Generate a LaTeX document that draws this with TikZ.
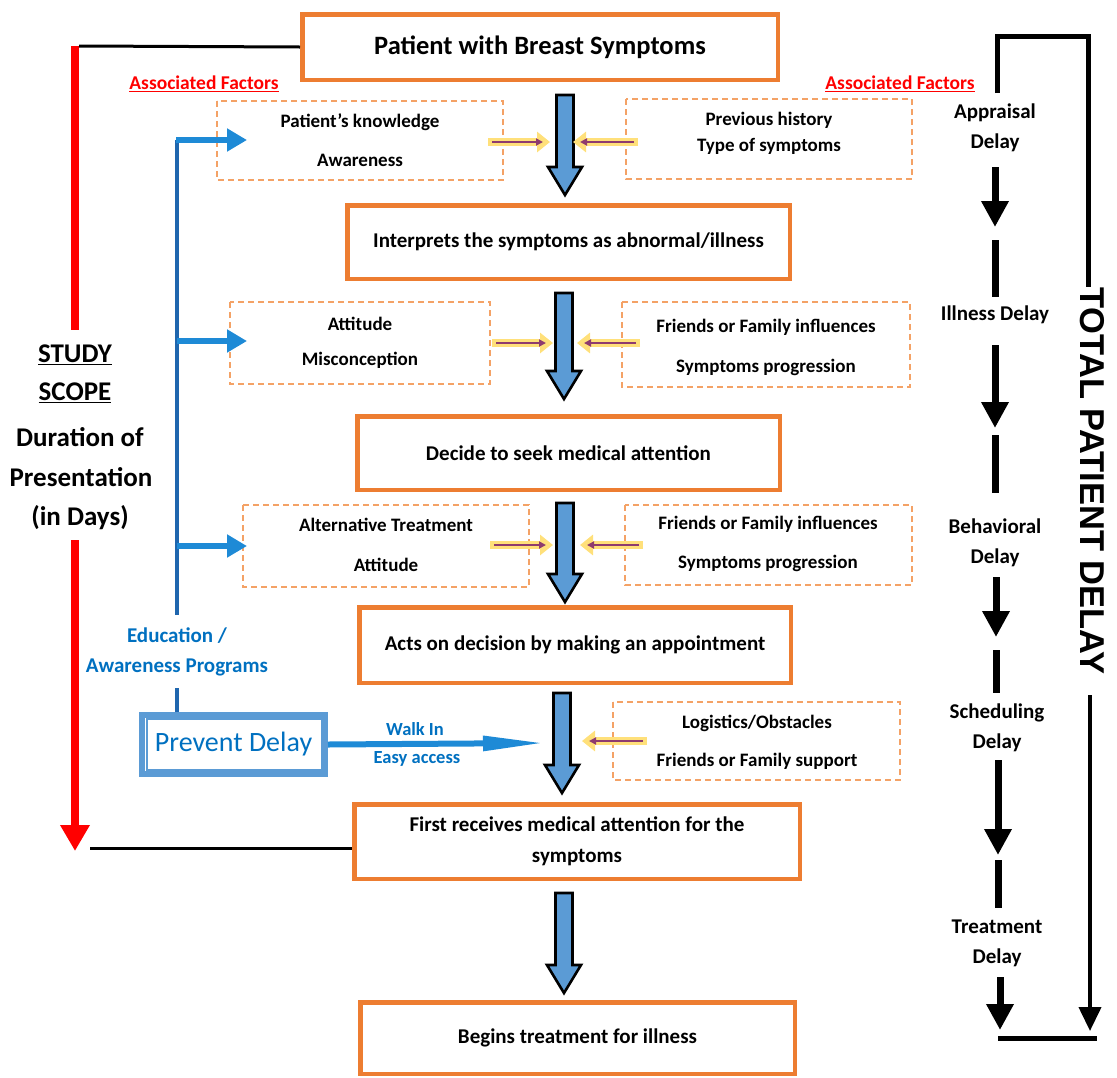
\documentclass[tikz,border=0pt]{standalone}
\usepackage{fontspec}
\setmainfont{Carlito}
\newfontfamily\arialfont{Liberation Sans}
\usetikzlibrary{arrows.meta,calc}
\definecolor{boxorange}{HTML}{ED7D31}
\definecolor{dashorange}{HTML}{F4A266}
\definecolor{arrowblue}{HTML}{5B9BD5}
\definecolor{edublue}{HTML}{0070C0}
\definecolor{lineblue}{HTML}{1F66AE}
\definecolor{brightblue}{HTML}{1E8AD6}
\definecolor{glowyellow}{HTML}{FFE07A}
\definecolor{purp}{HTML}{8E3B6E}
\definecolor{pdblue}{HTML}{5B9BD5}
\definecolor{redline}{HTML}{FF0000}
\newcommand\blockarrow[3]{%
  \draw[bigarrow] ({#1-8.5},#2) -- ({#1+8.5},#2) -- ({#1+8.5},{#3-28}) -- ({#1+17},{#3-28}) -- (#1,#3) -- ({#1-17},{#3-28}) -- ({#1-8.5},{#3-28}) -- cycle;}
\begin{document}
\begin{tikzpicture}[x=1pt,y=-1pt,
  mainbox/.style={draw=boxorange, line width=4.5pt, fill=white, align=center, inner sep=0pt,
    font=\bfseries\fontsize{21}{31}\selectfont},
  factortext/.style={font=\bfseries\fontsize{19}{#1}\selectfont, align=center, inner sep=0pt},
  factorbox/.style={draw=dashorange, line width=1.2pt, dash pattern=on 6pt off 4pt},
  bigarrow/.style={draw=black, fill=arrowblue, line width=2.6pt, line join=miter},
  glow/.style={draw=glowyellow, line width=8pt, -{Triangle[length=13pt,width=20pt]}},
  pur/.style={draw=purp, line width=2.4pt, -{Triangle[length=7pt,width=7pt]}},
  eduline/.style={draw=lineblue, line width=4pt},
  eduarrow/.style={draw=brightblue, line width=6pt, -{Triangle[length=20pt,width=22pt]}},
  edutext/.style={text=edublue, font=\bfseries\fontsize{21}{30}\selectfont, align=center, inner sep=0pt},
  walktext/.style={text=edublue, font=\bfseries\fontsize{18.5}{22}\selectfont, inner sep=0pt},
  assoc/.style={text=redline, font=\bfseries\fontsize{19.5}{22}\selectfont, inner sep=0pt},
  studytext/.style={font=\bfseries\fontsize{27}{30}\selectfont, inner sep=0pt},
  delaytext/.style={font=\bfseries\fontsize{21}{30}\selectfont, align=center, inner sep=0pt},
  dlarrow/.style={draw=black, line width=7pt, -{Triangle[length=26pt,width=26pt]}},
  dlline/.style={draw=black, line width=7pt},
  brk/.style={draw=black, line width=5pt, line join=miter},
]
\useasboundingbox (0,0) rectangle (1117,1077);
\clip (0,0) rectangle (1117,1077);

% ---------- main boxes ----------
\node[mainbox, minimum width=475.5pt, minimum height=65.5pt, font=\bfseries\fontsize{26.5}{30}\selectfont] (b1) at (540,47) {Patient with Breast Symptoms};
\node[mainbox, minimum width=442.5pt, minimum height=73.5pt] (b2) at (568.5,242) {Interprets the symptoms as abnormal/illness};
\node[mainbox, minimum width=422.5pt, minimum height=73.5pt] (b3) at (568.5,453) {Decide to seek medical attention};
\node[mainbox, minimum width=431.5pt, minimum height=75.5pt] (b4) at (575,645) {Acts on decision by making an appointment};
\node[mainbox, minimum width=445.5pt, minimum height=74.5pt] (b5) at (577,841.5) {First receives medical attention for the\\symptoms};
\node[mainbox, minimum width=434.5pt, minimum height=71.5pt] (b6) at (577.5,1038) {Begins treatment for illness};

% ---------- big blue arrows ----------
\blockarrow{565}{95}{195}
\blockarrow{564}{293}{399}
\blockarrow{565}{503}{602}
\blockarrow{562}{693}{793}
\blockarrow{564}{893}{993}

% ---------- factor boxes ----------
\draw[factorbox] (217,101) rectangle (503,180);
\node[factortext=39] (f1l) at (360,140) {Patient’s knowledge\\Awareness};
\draw[factorbox] (626,99) rectangle (912,179);
\node[factortext=26] (f1r) at (769,133) {Previous history\\Type of symptoms};
\draw[factorbox] (230,302) rectangle (490,384);
\node[factortext=35] (f2l) at (360,343) {Attitude\\Misconception};
\draw[factorbox] (622,302) rectangle (910,387);
\node[factortext=40] (f2r) at (766,347) {Friends or Family influences\\Symptoms progression};
\draw[factorbox] (243,505) rectangle (529,587);
\node[factortext=40] (f3l) at (386,545) {Alternative Treatment\\Attitude};
\draw[factorbox] (625,505) rectangle (912,585);
\node[factortext=39] (f3r) at (768,544) {Friends or Family influences\\Symptoms progression};
\draw[factorbox] (613,702) rectangle (900,780);
\node[factortext=38] (f4r) at (757,742) {Logistics/Obstacles\\Friends or Family support};

% ---------- small yellow/purple arrows ----------
\foreach \yy/\la/\lb/\ra/\rb in {142/488/550/638/573, 343/492/553/640/577, 545/490/553/643/580}{
  \draw[glow] (\la,\yy) -- (\lb,\yy);
  \draw[pur] ({\la+4},\yy) -- ({\lb-7},\yy);
  \draw[glow] (\ra,\yy) -- (\rb,\yy);
  \draw[pur] ({\ra-4},\yy) -- ({\rb+7},\yy);
}
\draw[glow] (647,741) -- (582,741);
\draw[pur] (643,741) -- (589,741);

% ---------- associated factors ----------
\node[assoc] (af1) at (204,84) {\underline{Associated Factors}};
\node[assoc] (af2) at (900,84) {\underline{Associated Factors}};

% ---------- education / prevent delay ----------
\coordinate (edtop) at (177,140);
\coordinate (edbot) at (177,615);
\draw[eduline] (edtop) -- (edbot);
\draw[eduarrow] ($(edtop)+(-1,0)$) -- ++(71,0);
\draw[eduarrow] (177,341) -- ++(70,0);
\draw[eduarrow] (177,546) -- ++(70,0);
\node[edutext] (edu) at (177,652) {Education /\\Awareness Programs};
\node[draw=pdblue, line width=6pt, minimum width=183pt, minimum height=59pt, text=edublue,
      font=\fontsize{28}{32}\selectfont, inner sep=0pt] (pd) at (233.5,744.5) {Prevent Delay};
\draw[pdblue, line width=1.3pt] ($(pd.north west)+(8,7)$) rectangle ($(pd.south east)+(-6,-7)$);
\draw[eduline] (pd.north -| edtop) -- ++(0,-24);
\draw[draw=brightblue, line width=6pt, -{Triangle[length=62pt,width=14pt]}] (pd.east) -- (545,743);
\node[walktext] (walk) at (415,729) {Walk In};
\node[walktext] (easy) at (417,759) {Easy access};

% ---------- study scope (left) ----------
\draw[draw=redline, line width=8pt] (75,46) -- (75,330);
\draw[black, line width=3pt] (79,46) -- (b1.west);
\node[studytext] (s1) at (75,355) {\underline{STUDY}};
\node[studytext] (s2) at (75,393) {\underline{SCOPE}};
\node[studytext] (s3) at (80,437) {Duration of};
\node[studytext] (s4) at (81,477) {Presentation};
\node[studytext] (s5) at (80,518) {(in Days)};
\draw[draw=redline, line width=8pt, -{Triangle[length=26pt,width=28pt]}] (75,540) -- (75,851);
\draw[black, line width=3pt] (90,848) -- ($(b5.west)+(0,6.5)$);

% ---------- delays (right) ----------
\node[delaytext] (d1) at (995,128) {Appraisal\\Delay};
\node[delaytext] (d2) at (995,315) {Illness Delay};
\node[delaytext] (d3) at (995,543) {Behavioral\\Delay};
\node[delaytext] (d4) at (997,728) {Scheduling\\Delay};
\node[delaytext] (d5) at (997,943) {Treatment\\Delay};
\draw[dlarrow] (995,167) -- (995,227);
\draw[dlline] (995,240) -- (995,297);
\draw[dlarrow] (995,345) -- (995,428);
\draw[dlline] (995,435) -- (995,493);
\draw[dlarrow] (996,577) -- (996,637);
\draw[dlline] (996,650) -- (996,693);
\draw[dlarrow] (998,760) -- (998,855);
\draw[dlline] (998,860) -- (998,908);
\draw[dlarrow] (1000,977) -- (1000,1030);

\node[rotate=-90, font=\arialfont\bfseries\fontsize{34.5}{40}\selectfont, inner sep=0pt] (tot) at (1092,481) {TOTAL PATIENT DELAY};
\draw[brk] (997,93) -- (997,36) -- (1088,36) -- (1088,287);
\coordinate (totbot) at (1090,695);
\draw[draw=black, line width=4pt, -{Triangle[length=24pt,width=22pt]}] (totbot) -- (1090,1031);
\draw[brk] (998,1038) -- (1097,1038);
\end{tikzpicture}
\end{document}
